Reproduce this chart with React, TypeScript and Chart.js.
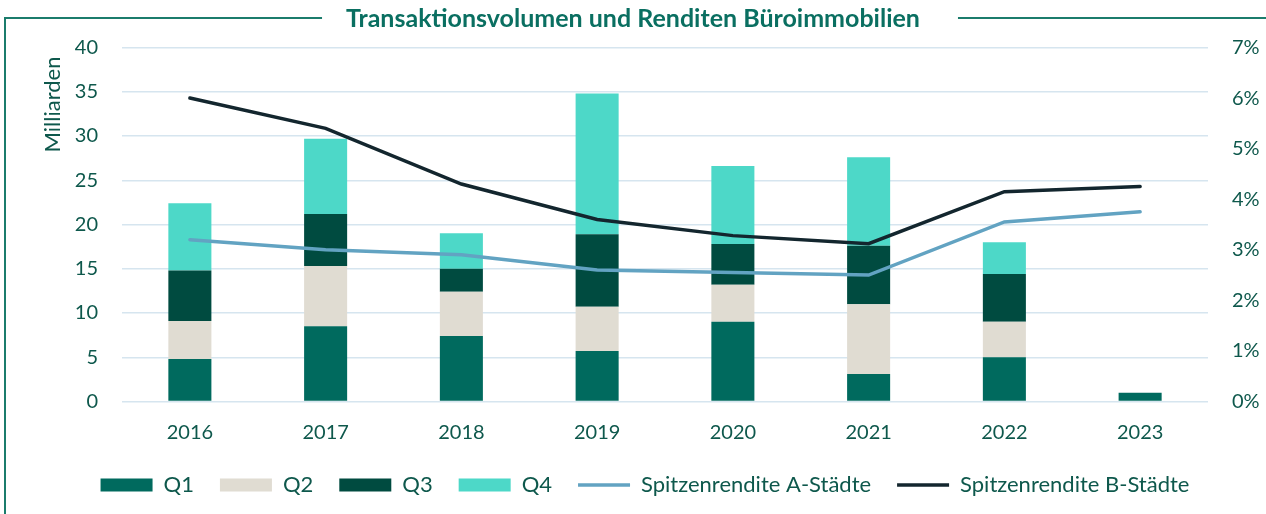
import { useEffect, useRef } from 'react';
import { Chart, registerables } from 'chart.js';

Chart.register(...registerables);

const years = ['2016', '2017', '2018', '2019', '2020', '2021', '2022', '2023'];
const q1 = [4.8, 8.5, 7.4, 5.7, 9.0, 3.1, 5.0, 1.0];
const q2 = [4.3, 6.8, 5.0, 5.0, 4.2, 7.9, 4.0, null];
const q3 = [5.7, 5.9, 2.6, 8.2, 4.6, 6.6, 5.4, null];
const q4 = [7.6, 8.5, 4.0, 15.9, 8.8, 10.0, 3.6, null];
const renditeA = [3.2, 3.0, 2.9, 2.6, 2.55, 2.5, 3.55, 3.75];
const renditeB = [6.0, 5.4, 4.3, 3.6, 3.28, 3.12, 4.15, 4.25];

const TITLE = 'Transaktionsvolumen und Renditen Büroimmobilien';
const Y_TITLE = 'Milliarden';
const FONT = 'Lato, "Open Sans", sans-serif';
const TEXT = '#0E584C';

const frame = {
  id: 'frame',
  afterLayout(chart: any) {
    const lg = chart.legend;
    if (lg) {
      lg.left += 12;
      lg.right += 12;
    }
  },
  afterDraw(chart: any) {
    const { ctx, width, height, chartArea } = chart;
    ctx.save();
    ctx.font = `bold 25px ${FONT}`;
    const tw = ctx.measureText(TITLE).width;
    const cx = width / 2;
    ctx.strokeStyle = '#1B7C6C';
    ctx.lineWidth = 2;
    ctx.beginPath();
    ctx.moveTo(5, height);
    ctx.lineTo(5, 18);
    ctx.lineTo(cx - tw / 2 - 24, 18);
    ctx.moveTo(cx + tw / 2 + 38, 18);
    ctx.lineTo(width, 18);
    ctx.stroke();

    ctx.font = `22px ${FONT}`;
    ctx.fillStyle = TEXT;
    ctx.translate(53, chartArea.top + 9);
    ctx.rotate(-Math.PI / 2);
    ctx.textAlign = 'right';
    ctx.textBaseline = 'middle';
    ctx.fillText(Y_TITLE, 0, 0);
    ctx.restore();
  },
};

export default function App() {
  const ref = useRef<HTMLCanvasElement>(null);

  useEffect(() => {
    if (!ref.current) return;
    const barCommon = { type: 'bar' as const, stack: 'v', yAxisID: 'y', order: 1, borderWidth: 0, pointStyle: 'rect', categoryPercentage: 1, barPercentage: 0.317 };
    const chart = new Chart(ref.current, {
      type: 'bar',
      data: {
        labels: years,
        datasets: [
          { ...barCommon, label: 'Q1', data: q1, backgroundColor: '#006A5E' },
          { ...barCommon, label: 'Q2', data: q2, backgroundColor: '#E0DCD2' },
          { ...barCommon, label: 'Q3', data: q3, backgroundColor: '#004B40' },
          { ...barCommon, label: 'Q4', data: q4, backgroundColor: '#4DD8C8' },
          {
            type: 'line', label: 'Spitzenrendite A-Städte', data: renditeA, yAxisID: 'y1', order: 0,
            borderColor: '#62A3C2', backgroundColor: '#62A3C2', borderWidth: 3.5, pointRadius: 0,
            pointStyle: 'line', borderCapStyle: 'round', tension: 0, fill: false,
          },
          {
            type: 'line', label: 'Spitzenrendite B-Städte', data: renditeB, yAxisID: 'y1', order: 0,
            borderColor: '#13262E', backgroundColor: '#13262E', borderWidth: 3.5, pointRadius: 0,
            pointStyle: 'line', borderCapStyle: 'round', tension: 0, fill: false,
          },
        ] as any,
      },
      options: {
        animation: false,
        responsive: true,
        maintainAspectRatio: false,
        layout: { padding: { left: 0, right: 0, top: 0, bottom: 8 } },
        plugins: {
          title: {
            display: true,
            text: TITLE,
            color: '#0A6F61',
            font: { family: FONT, size: 25, weight: 'bold' },
            padding: { top: 4, bottom: 13.5 },
          },
          legend: {
            position: 'bottom',
            labels: {
              usePointStyle: true,
              pointStyleWidth: 52,
              boxHeight: 13,
              padding: 26,
              color: TEXT,
              font: { family: FONT, size: 22 },
              sort: (a: any, b: any) => a.datasetIndex - b.datasetIndex,
            },
          },
          tooltip: { enabled: false },
        },
        scales: {
          x: {
            grid: { display: false },
            border: { display: false },
            ticks: { color: TEXT, font: { family: FONT, size: 20 }, padding: 11 },
            afterFit: (s: any) => { s.height = 46.5; },
          },
          y: {
            position: 'left',
            stacked: true,
            min: 0,
            max: 40,
            ticks: { stepSize: 5, color: TEXT, font: { family: FONT, size: 20 }, padding: 24 },
            grid: { color: '#D6E5EF', lineWidth: 1.5, drawTicks: false },
            border: { display: false },
            afterFit: (s: any) => { s.width = 122; },
          },
          y1: {
            position: 'right',
            min: 0,
            max: 7,
            ticks: { stepSize: 1, color: TEXT, font: { family: FONT, size: 20 }, padding: 24, callback: (v: any) => `${v}%` },
            grid: { display: false, drawTicks: false },
            border: { display: false },
            afterFit: (s: any) => { s.width = 58; },
          },
        },
      } as any,
      plugins: [frame],
    });
    return () => chart.destroy();
  }, []);

  return (
    <div style={{ position: 'fixed', left: 0, top: 0, width: 1266, height: 514, background: '#fff' }}>
      <canvas ref={ref} />
    </div>
  );
}
